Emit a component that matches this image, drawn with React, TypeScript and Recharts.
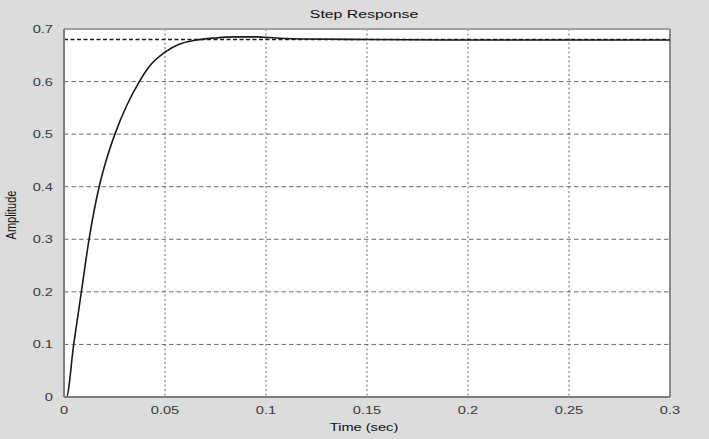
import React from "react";
import { LineChart, Line, XAxis, YAxis, CartesianGrid, ReferenceLine } from "recharts";

const TIME = [0, 0.0012, 0.0048, 0.0086, 0.0124, 0.0174, 0.0205, 0.0252, 0.031, 0.0373, 0.0425, 0.05, 0.057, 0.064, 0.075, 0.085, 0.095, 0.105, 0.12, 0.15, 0.2, 0.25, 0.3];
const AMPLITUDE = [0, 0, 0.1, 0.2, 0.3, 0.4, 0.445, 0.5, 0.554, 0.6, 0.63, 0.656, 0.671, 0.678, 0.683, 0.685, 0.685, 0.683, 0.681, 0.68, 0.679, 0.679, 0.679];
const X_TICKS = [0, 0.05, 0.1, 0.15, 0.2, 0.25, 0.3];
const X_TICK_LABELS = ["0", "0.05", "0.1", "0.15", "0.2", "0.25", "0.3"];
const Y_TICKS = [0, 0.1, 0.2, 0.3, 0.4, 0.5, 0.6, 0.7];
const Y_TICK_LABELS = ["0", "0.1", "0.2", "0.3", "0.4", "0.5", "0.6", "0.7"];
const STEADY_STATE = 0.68;
const TITLE = "Step Response";
const X_LABEL = "Time (sec)";
const Y_LABEL = "Amplitude";

const data = TIME.map((t, i) => ({ t, y: AMPLITUDE[i] }));

const W = 709;
const H = 439;
const SX = 1.33;
const FONT = "'Liberation Sans', Arial, sans-serif";

const XTick = (props: any) => {
  const { x, y, payload } = props;
  const idx = X_TICKS.indexOf(payload.value);
  return (
    <text transform={`translate(${x},${y}) scale(${SX},1)`} textAnchor="middle" dy="0.71em" fontSize={11} fill="#3a3a3a" fontFamily={FONT}>
      {idx >= 0 ? X_TICK_LABELS[idx] : payload.value}
    </text>
  );
};

const YTick = (props: any) => {
  const { x, y, payload } = props;
  const idx = Y_TICKS.indexOf(payload.value);
  return (
    <text transform={`translate(${x},${y}) scale(${SX},1)`} textAnchor="end" dy={4} fontSize={11} fill="#3a3a3a" fontFamily={FONT}>
      {idx >= 0 ? Y_TICK_LABELS[idx] : payload.value}
    </text>
  );
};

export default function App() {
  return (
    <div style={{ position: "absolute", left: 0, top: 0, width: W, height: H, background: "#dcdcdc" }}>
      <LineChart width={W} height={H} data={data} margin={{ top: 29, right: 39, bottom: 0, left: 0 }}>
        <CartesianGrid vertical={false} stroke="#6a6a6a" strokeDasharray="4.5 3" fill="#ffffff" />
        <CartesianGrid horizontal={false} stroke="#6a6a6a" strokeDasharray="2 2.5" />
        <XAxis
          dataKey="t"
          type="number"
          domain={[0, 0.3]}
          ticks={X_TICKS}
          height={42}
          tickLine={false}
          tickMargin={3}
          axisLine={{ stroke: "#7d7d7d", strokeWidth: 2 }}
          tick={<XTick />}
          interval={0}
        />
        <YAxis
          type="number"
          domain={[0, 0.7]}
          ticks={Y_TICKS}
          width={64}
          tickLine={false}
          tickMargin={5}
          axisLine={{ stroke: "#7d7d7d", strokeWidth: 2 }}
          tick={<YTick />}
          interval={0}
        />
        <ReferenceLine y={STEADY_STATE} stroke="#1e1e1e" strokeWidth={1.4} strokeDasharray="4 2.5" />
        <ReferenceLine x={0.3} stroke="#8a8a8a" strokeWidth={2} />
        <ReferenceLine y={0.7} stroke="#a0a0a0" strokeWidth={2} />
        <Line type="monotone" dataKey="y" stroke="#1a1a1a" strokeWidth={1.6} dot={false} isAnimationActive={false} />
      </LineChart>
      <svg width={W} height={H} style={{ position: "absolute", left: 0, top: 0, pointerEvents: "none" }}>
        <text transform={`translate(364,17.5) scale(${SX + 0.05},1)`} textAnchor="middle" fontSize={11.5} fill="#111" fontFamily={FONT}>
          {TITLE}
        </text>
        <text transform={`translate(364,431) scale(${SX},1)`} textAnchor="middle" fontSize={11} fill="#111" fontFamily={FONT}>
          {X_LABEL}
        </text>
        <text transform={`translate(15.5,215) scale(${SX},1) rotate(-90)`} textAnchor="middle" fontSize={11} fill="#111" fontFamily={FONT}>
          {Y_LABEL}
        </text>
      </svg>
    </div>
  );
}
